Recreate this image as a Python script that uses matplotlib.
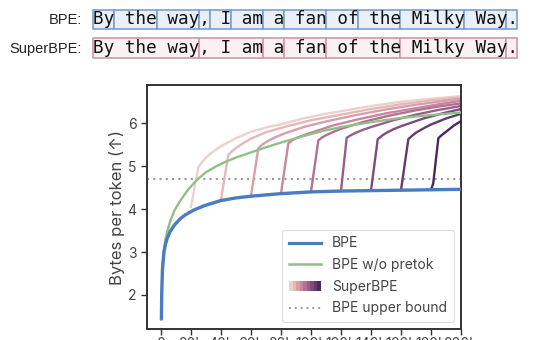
import matplotlib
matplotlib.use("Agg")
import matplotlib.pyplot as plt
import seaborn as sns
from matplotlib.patches import Rectangle
from matplotlib.lines import Line2D
from matplotlib.legend_handler import HandlerBase

# ---------------- data ----------------
bpe_x = [300, 500, 1000, 2000, 3000, 4000, 6000, 9000, 13000, 16000, 22000, 29000, 40000, 50000, 60000,
         80000, 100000, 120000, 140000, 160000, 180000, 200000]
bpe_y = [1.42, 2.0, 2.6, 3.0, 3.18, 3.3, 3.47, 3.63, 3.78, 3.86, 3.98, 4.08, 4.2, 4.26, 4.3,
         4.36, 4.4, 4.42, 4.43, 4.44, 4.45, 4.46]

nopretok_x = [300, 500, 1000, 2000, 3000, 4000, 6000, 9000, 13000, 18000, 24000, 30000, 37000,
              43000, 50000, 60000, 70000, 82000, 96000, 108000, 120000, 130000, 145000, 159000,
              180000, 200000]
nopretok_y = [1.42, 2.0, 2.62, 3.05, 3.3, 3.45, 3.7, 3.97, 4.2, 4.45, 4.68, 4.86, 5.0,
              5.1, 5.2, 5.32, 5.44, 5.57, 5.71, 5.82, 5.91, 5.97, 6.05, 6.12, 6.19, 6.25]

upper_bound = 4.69

super_x = [
    [20000, 24900, 27000, 30000, 34000, 38000, 44000, 50000, 60000, 70000, 83000, 96000, 110000,
     120000, 140000, 160000, 180000, 200000],
    [40000, 44900, 47500, 50000, 55000, 60000, 70000, 83000, 100000, 120000, 140000, 160000, 180000, 200000],
    [60000, 64900, 67500, 70000, 76000, 83000, 96000, 110000, 130000, 150000, 170000, 185000, 200000],
    [80000, 84900, 87500, 90000, 95000, 100000, 115000, 130000, 150000, 170000, 185000, 200000],
    [100000, 104900, 107500, 110000, 115000, 120000, 135000, 150000, 170000, 185000, 200000],
    [120000, 123800, 126500, 130000, 135000, 140000, 155000, 170000, 185000, 200000],
    [140000, 144500, 147000, 150000, 155000, 160000, 175000, 190000, 200000],
    [160000, 164900, 167500, 170000, 175000, 180000, 190000, 200000],
    [180000, 181500, 184900, 187000, 190000, 195000, 200000],
]
super_y = [
    [4.05, 4.97, 5.08, 5.2, 5.32, 5.42, 5.54, 5.65, 5.8, 5.9, 6.0, 6.12, 6.22,
     6.28, 6.4, 6.5, 6.57, 6.63],
    [4.22, 5.26, 5.35, 5.42, 5.54, 5.64, 5.79, 5.92, 6.07, 6.2, 6.33, 6.44, 6.53, 6.6],
    [4.3, 5.42, 5.5, 5.56, 5.67, 5.77, 5.92, 6.04, 6.19, 6.32, 6.43, 6.5, 6.57],
    [4.36, 5.53, 5.6, 5.65, 5.72, 5.78, 5.95, 6.08, 6.23, 6.35, 6.44, 6.52],
    [4.4, 5.6, 5.67, 5.72, 5.8, 5.87, 6.03, 6.16, 6.3, 6.39, 6.46],
    [4.42, 5.66, 5.72, 5.78, 5.85, 5.91, 6.07, 6.2, 6.31, 6.4],
    [4.43, 5.63, 5.7, 5.77, 5.86, 5.93, 6.11, 6.25, 6.33],
    [4.44, 5.63, 5.71, 5.78, 5.88, 5.97, 6.11, 6.22],
    [4.45, 4.6, 5.65, 5.72, 5.8, 5.94, 6.05],
]

xticks = [0, 20000, 40000, 60000, 80000, 100000, 120000, 140000, 160000, 180000, 200000]
xticklabels = ["0", "20k", "40k", "60k", "80k", "100k", "120k", "140k", "160k", "180k", "200k"]
yticks = [2, 3, 4, 5, 6]

bpe_tokens = ["By", " the", " way", ",", " I", " am", " a", " fan", " of", " the", " Milky", " Way", "."]
super_tokens = ["By the way", ", I am", " a", " fan", " of the", " Milky Way", "."]

# ---------------- style ----------------
plt.rcParams["font.family"] = ["Inter", "DejaVu Sans"]
BLUE = "#4a7cc0"
GREEN = "#8fc088"
GRAY = "#9a9a9a"
TXT = "#444444"
super_colors = sns.cubehelix_palette(len(super_x), light=0.85, dark=0.22)

W, H = 540, 340
fig = plt.figure(figsize=(W / 100, H / 100), dpi=100)
ax = fig.add_axes([147 / W, 1 - 329.3 / H, (461 - 147) / W, (329.3 - 85) / H])

for xs, ys, c in zip(super_x, super_y, super_colors):
    ax.plot(xs, ys, color=c, lw=1.7, zorder=2, solid_joinstyle="round")
ax.plot(nopretok_x, nopretok_y, color=GREEN, lw=1.7, zorder=3)
ax.plot(bpe_x, bpe_y, color=BLUE, lw=2.4, zorder=4, solid_capstyle="butt")
ax.axhline(upper_bound, color=GRAY, ls=(0, (1, 2)), lw=1.5, zorder=1)

ax.set_xlim(-9300, 200000)
ax.set_ylim(1.2, 6.89)
ax.set_xticks(xticks)
ax.set_xticklabels(xticklabels)
ax.set_yticks(yticks)
ax.tick_params(axis="both", labelsize=10, labelcolor=TXT, color="#333333", length=4, width=1)
ax.tick_params(axis="x", pad=1.5)
for s in ax.spines.values():
    s.set_color("#333333")
    s.set_linewidth(1.4)
ax.set_ylabel("Bytes per token (↑)", fontsize=12, color=TXT, labelpad=2)


class GradientHandler(HandlerBase):
    def create_artists(self, legend, orig_handle, xdescent, ydescent, width, height, fontsize, trans):
        n = len(super_colors)
        h = height * 1.1
        y0 = -ydescent + (height - h) / 2
        arts = []
        for i, c in enumerate(super_colors):
            r = Rectangle((-xdescent + i * width / n, y0), width / n + 0.3, h,
                          facecolor=c, edgecolor="none", transform=trans)
            arts.append(r)
        return arts


class GradProxy:
    pass


handles = [
    Line2D([], [], color=BLUE, lw=2.3),
    Line2D([], [], color=GREEN, lw=1.8),
    GradProxy(),
    Line2D([], [], color=GRAY, ls=(0, (1, 2)), lw=1.4),
]
labels = ["BPE", "BPE w/o pretok", "SuperBPE", "BPE upper bound"]
leg = ax.legend(handles, labels, loc="lower right", fontsize=10, handlelength=2.3,
                handler_map={GradProxy: GradientHandler()}, labelcolor=TXT,
                frameon=True, fancybox=True, edgecolor="#dddddd", framealpha=1,
                borderpad=0.5, labelspacing=0.55)
leg.get_frame().set_linewidth(0.8)

# ---------------- token rows ----------------
mono_size = 12.66
cw = 0.60205 * mono_size * 100 / 72  # advance width in px of DejaVu Sans Mono
x0 = 93.3


def draw_row(tokens, box_top, box_bot, baseline, face, edge):
    pos = 0
    for tok in tokens:
        n = len(tok)
        fig.add_artist(Rectangle(((x0 + pos * cw) / W, 1 - box_bot / H), n * cw / W,
                                 (box_bot - box_top) / H, transform=fig.transFigure,
                                 facecolor=face, edgecolor=edge, lw=1.2, zorder=1))
        pos += n
    fig.text(x0 / W, 1 - baseline / H, "".join(tokens), family="DejaVu Sans Mono",
             fontsize=mono_size, color="#111111", ha="left", va="baseline", zorder=2)


draw_row(bpe_tokens, 10, 28.5, 24.3, "#e9f0f9", "#7b9fd0")
draw_row(super_tokens, 38.5, 58.3, 53.0, "#fbf1f3", "#cf98a4")
fig.text(82 / W, 1 - 24.3 / H, "BPE:", ha="right", va="baseline", fontsize=10.5,
         family=["Liberation Sans", "DejaVu Sans"], color="#222222")
fig.text(82 / W, 1 - 53.0 / H, "SuperBPE:", ha="right", va="baseline", fontsize=10.5,
         family=["Liberation Sans", "DejaVu Sans"], color="#222222")

fig.savefig("out.png", dpi=100)
